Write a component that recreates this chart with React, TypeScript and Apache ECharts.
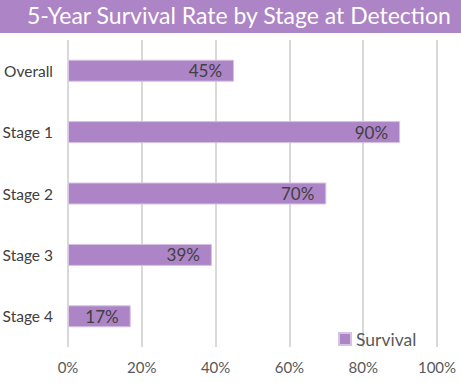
import React, { useEffect, useRef } from "react";
import * as echarts from "echarts";

const categories = ["Overall", "Stage 1", "Stage 2", "Stage 3", "Stage 4"];
const survival = [45, 90, 70, 39, 17];
const xTicks = [0, 20, 40, 60, 80, 100];
const titleText = "5-Year Survival Rate by Stage at Detection";
const seriesName = "Survival";

const FONT = "Lato, 'Open Sans', sans-serif";
const PURPLE = "#AD84C6";

export default function App() {
  const ref = useRef<HTMLDivElement>(null);
  useEffect(() => {
    document.body.style.margin = "0";
    const chart = echarts.init(ref.current!, null, { renderer: "svg" });
    chart.setOption({
      animation: false,
      backgroundColor: "#ffffff",
      textStyle: { fontFamily: FONT },
      graphic: [
        {
          type: "rect",
          left: 0,
          top: 0,
          shape: { width: 461, height: 33 },
          style: { fill: PURPLE },
          silent: true,
        },
        {
          type: "text",
          left: 27,
          top: 3,
          style: {
            text: titleText,
            fill: "#ffffff",
            fontSize: 23,
            fontFamily: FONT,
          },
        },
      ],
      grid: {
        left: 68,
        right: 24,
        top: 40,
        bottom: 36,
        containLabel: false,
        outerBoundsMode: "none",
      },
      legend: {
        data: [seriesName],
        left: 333,
        top: 325,
        icon: "rect",
        itemWidth: 12,
        itemHeight: 12,
        itemGap: 5,
        textStyle: { fontSize: 17.5, color: "#595959", fontFamily: FONT },
      },
      xAxis: {
        type: "value",
        min: xTicks[0],
        max: xTicks[xTicks.length - 1],
        interval: 20,
        axisLine: { show: false },
        axisTick: { show: false },
        splitLine: { show: true, lineStyle: { color: "#d9d9d9", width: 2 } },
        axisLabel: {
          formatter: (v: number) => v + "%",
          color: "#595959",
          fontSize: 15,
          margin: 12,
          fontFamily: FONT,
        },
      },
      yAxis: {
        type: "category",
        data: categories,
        inverse: true,
        axisLine: { show: false },
        axisTick: { show: false },
        axisLabel: { color: "#404040", fontSize: 15.5, margin: 15, fontFamily: FONT },
      },
      series: [
        {
          name: seriesName,
          type: "bar",
          data: survival,
          barWidth: 22,
          itemStyle: { color: PURPLE, borderColor: "#D6C2E3", borderWidth: 1 },
          label: {
            show: true,
            position: "insideRight",
            distance: 12,
            formatter: (p: any) => p.value + "%",
            color: "#404040",
            fontSize: 17,
            fontFamily: FONT,
          },
        },
      ],
    });
    return () => chart.dispose();
  }, []);
  return (
    <div
      ref={ref}
      style={{ position: "absolute", left: 0, top: 0, width: 461, height: 383 }}
    />
  );
}
